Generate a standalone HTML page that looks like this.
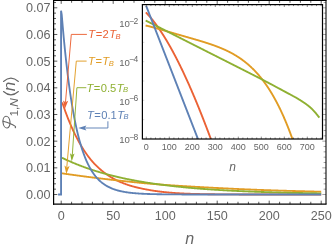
<!DOCTYPE html>
<html><head><meta charset="utf-8"><title>plot</title>
<style>html,body{margin:0;padding:0;background:#fff;}svg{display:block;will-change:transform;transform:translateZ(0);}</style>
</head><body>
<svg width="332" height="249" viewBox="0 0 332 249" font-family="Liberation Sans, sans-serif">
<rect width="332" height="249" fill="#fff"/>
<clipPath id="mc"><rect x="53.6" y="0.35" width="272.4" height="203.8"/></clipPath>
<g clip-path="url(#mc)" fill="none" stroke-width="1.85" stroke-linejoin="round">
<path d="M61.62,102.45 L62.76,104.01 L63.28,105.54 L63.80,107.05 L64.32,108.54 L64.84,110.00 L65.36,111.44 L65.88,112.86 L66.40,114.25 L66.92,115.63 L67.44,116.98 L67.96,118.31 L68.48,119.62 L69.00,120.91 L69.52,122.17 L70.04,123.42 L70.56,124.65 L71.08,125.86 L71.60,127.05 L72.12,128.22 L72.64,129.37 L73.16,130.50 L73.68,131.61 L74.20,132.71 L74.72,133.79 L75.24,134.85 L75.76,135.89 L76.28,136.91 L76.80,137.92 L77.32,138.92 L77.84,139.89 L78.36,140.85 L78.88,141.80 L79.40,142.73 L79.92,143.64 L80.44,144.55 L80.96,145.43 L81.48,146.31 L82.00,147.17 L82.52,148.02 L83.04,148.85 L83.56,149.67 L84.08,150.47 L84.60,151.27 L85.12,152.04 L85.64,152.81 L86.16,153.56 L86.68,154.29 L87.20,155.02 L87.72,155.72 L88.24,156.42 L88.76,157.10 L89.28,157.77 L89.80,158.43 L90.32,159.07 L90.84,159.71 L91.36,160.33 L91.88,160.93 L92.40,161.53 L92.92,162.12 L93.44,162.70 L93.96,163.26 L94.48,163.82 L95.00,164.36 L95.52,164.90 L96.04,165.42 L96.56,165.94 L97.08,166.45 L97.60,166.95 L98.12,167.44 L98.64,167.92 L99.16,168.39 L99.68,168.85 L100.20,169.31 L100.72,169.76 L101.24,170.20 L101.76,170.63 L102.28,171.06 L102.80,171.47 L103.32,171.88 L103.84,172.29 L104.36,172.68 L104.88,173.07 L105.40,173.45 L105.92,173.83 L106.44,174.20 L106.96,174.56 L107.48,174.92 L108.00,175.27 L108.52,175.61 L109.04,175.95 L109.56,176.28 L110.08,176.61 L110.60,176.93 L111.12,177.25 L111.64,177.55 L112.16,177.86 L112.68,178.16 L113.20,178.45 L113.72,178.74 L114.24,179.02 L114.76,179.30 L115.28,179.57 L115.80,179.84 L116.32,180.11 L116.84,180.36 L117.36,180.62 L117.88,180.87 L118.40,181.11 L118.92,181.36 L119.44,181.59 L119.96,181.82 L120.48,182.05 L121.00,182.28 L121.52,182.50 L122.04,182.72 L122.56,182.93 L123.08,183.14 L123.60,183.34 L124.12,183.55 L124.64,183.74 L125.16,183.94 L125.68,184.13 L126.20,184.32 L126.72,184.50 L127.24,184.68 L127.76,184.86 L128.28,185.03 L128.80,185.20 L129.32,185.36 L129.84,185.53 L130.36,185.69 L130.88,185.84 L131.40,185.99 L131.92,186.14 L132.44,186.29 L132.96,186.44 L133.48,186.58 L134.00,186.72 L134.52,186.86 L135.04,186.99 L135.56,187.12 L136.08,187.25 L136.60,187.38 L137.12,187.51 L137.64,187.63 L138.16,187.75 L138.68,187.87 L139.20,187.99 L139.72,188.11 L140.24,188.22 L140.76,188.34 L141.28,188.45 L141.80,188.56 L142.32,188.67 L142.84,188.78 L143.36,188.88 L143.88,188.99 L144.40,189.09 L144.92,189.19 L145.44,189.29 L145.96,189.39 L146.48,189.49 L147.00,189.59 L147.52,189.68 L148.04,189.78 L148.56,189.87 L149.08,189.96 L149.60,190.05 L150.12,190.14 L150.64,190.23 L151.16,190.32 L151.68,190.40 L152.20,190.49 L152.72,190.57 L153.24,190.65 L153.76,190.73 L154.28,190.81 L154.80,190.89 L155.32,190.97 L155.84,191.04 L156.36,191.11 L156.88,191.19 L157.40,191.26 L157.92,191.33 L158.44,191.40 L158.96,191.46 L159.48,191.53 L160.00,191.59 L160.52,191.66 L161.04,191.72 L161.56,191.78 L162.08,191.84 L162.60,191.90 L163.12,191.96 L163.64,192.02 L164.16,192.07 L164.68,192.13 L165.20,192.18 L165.72,192.23 L166.24,192.28 L166.76,192.33 L167.28,192.38 L167.80,192.43 L168.32,192.48 L168.84,192.53 L169.36,192.57 L169.88,192.62 L170.40,192.66 L170.92,192.70 L171.44,192.75 L171.96,192.79 L172.48,192.83 L173.00,192.87 L173.52,192.91 L174.04,192.94 L174.56,192.98 L175.08,193.02 L175.60,193.05 L176.12,193.09 L176.64,193.12 L177.16,193.15 L177.68,193.19 L178.20,193.22 L178.72,193.25 L179.24,193.28 L179.76,193.31 L180.28,193.34 L180.80,193.37 L181.32,193.39 L181.84,193.42 L182.36,193.45 L182.88,193.47 L183.40,193.50 L183.92,193.52 L184.44,193.55 L184.96,193.57 L185.48,193.59 L186.00,193.62 L186.52,193.64 L187.04,193.66 L187.56,193.68 L188.08,193.70 L188.60,193.72 L189.12,193.74 L189.64,193.76 L190.16,193.78 L190.68,193.80 L191.20,193.81 L191.72,193.83 L192.24,193.85 L192.76,193.86 L193.28,193.88 L193.80,193.90 L194.32,193.91 L194.84,193.93 L195.36,193.94 L195.88,193.95 L196.40,193.97 L196.92,193.98 L197.44,193.99 L197.96,194.01 L198.48,194.02 L199.00,194.03 L199.52,194.04 L200.04,194.06 L200.56,194.07 L201.08,194.08 L201.60,194.09 L202.12,194.10 L202.64,194.11 L203.16,194.12 L203.68,194.13 L204.20,194.14 L204.72,194.15 L205.24,194.16 L205.76,194.17 L206.28,194.18 L206.80,194.19 L207.32,194.20 L207.84,194.20 L208.36,194.21 L208.88,194.22 L209.40,194.23 L209.92,194.23 L210.44,194.24 L210.96,194.25 L211.48,194.26 L212.00,194.26 L212.52,194.27 L213.04,194.28 L213.56,194.28 L214.08,194.29 L214.60,194.29 L215.12,194.30 L215.64,194.30 L216.16,194.31 L216.68,194.32 L217.20,194.32 L217.72,194.33 L218.24,194.33 L218.76,194.34 L219.28,194.34 L219.80,194.34 L220.32,194.35 L220.84,194.35 L221.36,194.36 L221.88,194.36 L222.40,194.37 L222.92,194.37 L223.44,194.37 L223.96,194.38 L224.48,194.38 L225.00,194.38 L225.52,194.39 L226.04,194.39 L226.56,194.39 L227.08,194.40 L227.60,194.40 L228.12,194.40 L228.64,194.40 L229.16,194.41 L229.68,194.41 L230.20,194.41 L230.72,194.42 L231.24,194.42 L231.76,194.42 L232.28,194.42 L232.80,194.42 L233.32,194.43 L233.84,194.43 L234.36,194.43 L234.88,194.43 L235.40,194.44 L235.92,194.44 L236.44,194.44 L236.96,194.44 L237.48,194.44 L238.00,194.44 L238.52,194.45 L239.04,194.45 L239.56,194.45 L240.08,194.45 L240.60,194.45 L241.12,194.45 L241.64,194.45 L242.16,194.46 L242.68,194.46 L243.20,194.46 L243.72,194.46 L244.24,194.46 L244.76,194.46 L245.28,194.46 L245.80,194.46 L246.32,194.47 L246.84,194.47 L247.36,194.47 L247.88,194.47 L248.40,194.47 L248.92,194.47 L249.44,194.47 L249.96,194.47 L250.48,194.47 L251.00,194.47 L251.52,194.47 L252.04,194.48 L252.56,194.48 L253.08,194.48 L253.60,194.48 L254.12,194.48 L254.64,194.48 L255.16,194.48 L255.68,194.48 L256.20,194.48 L256.72,194.48 L257.24,194.48 L257.76,194.48 L258.28,194.48 L258.80,194.48 L259.32,194.48 L259.84,194.48 L260.36,194.49 L260.88,194.49 L261.40,194.49 L261.92,194.49 L262.44,194.49 L262.96,194.49 L263.48,194.49 L264.00,194.49 L264.52,194.49 L265.04,194.49 L265.56,194.49 L266.08,194.49 L266.60,194.49 L267.12,194.49 L267.64,194.49 L268.16,194.49 L268.68,194.49 L269.20,194.49 L269.72,194.49 L270.24,194.49 L270.76,194.49 L271.28,194.49 L271.80,194.49 L272.32,194.49 L272.84,194.49 L273.36,194.49 L273.88,194.49 L274.40,194.49 L274.92,194.49 L275.44,194.49 L275.96,194.49 L276.48,194.49 L277.00,194.49 L277.52,194.49 L278.04,194.50 L278.56,194.50 L279.08,194.50 L279.60,194.50 L280.12,194.50 L280.64,194.50 L281.16,194.50 L281.68,194.50 L282.20,194.50 L282.72,194.50 L283.24,194.50 L283.76,194.50 L284.28,194.50 L284.80,194.50 L285.32,194.50 L285.84,194.50 L286.36,194.50 L286.88,194.50 L287.40,194.50 L287.92,194.50 L288.44,194.50 L288.96,194.50 L289.48,194.50 L290.00,194.50 L290.52,194.50 L291.04,194.50 L291.56,194.50 L292.08,194.50 L292.60,194.50 L293.12,194.50 L293.64,194.50 L294.16,194.50 L294.68,194.50 L295.20,194.50 L295.72,194.50 L296.24,194.50 L296.76,194.50 L297.28,194.50 L297.80,194.50 L298.32,194.50 L298.84,194.50 L299.36,194.50 L299.88,194.50 L300.40,194.50 L300.92,194.50 L301.44,194.50 L301.96,194.50 L302.48,194.50 L303.00,194.50 L303.52,194.50 L304.04,194.50 L304.56,194.50 L305.08,194.50 L305.60,194.50 L306.12,194.50 L306.64,194.50 L307.16,194.50 L307.68,194.50 L308.20,194.50 L308.72,194.50 L309.24,194.50 L309.76,194.50 L310.28,194.50 L310.80,194.50 L311.32,194.50 L311.84,194.50 L312.36,194.50 L312.88,194.50 L313.40,194.50 L313.92,194.50 L314.44,194.50 L314.96,194.50 L315.48,194.50 L316.00,194.50 L316.52,194.50 L317.04,194.50 L317.56,194.50 L318.08,194.50 L318.60,194.50 L319.12,194.50 L319.64,194.50 L320.16,194.50 L320.68,194.50 L321.20,194.50" stroke="#EB6235"/>
<path d="M61.62,173.36 L62.76,173.44 L63.28,173.51 L63.80,173.59 L64.32,173.67 L64.84,173.74 L65.36,173.81 L65.88,173.89 L66.40,173.96 L66.92,174.04 L67.44,174.11 L67.96,174.19 L68.48,174.26 L69.00,174.33 L69.52,174.41 L70.04,174.48 L70.56,174.55 L71.08,174.63 L71.60,174.70 L72.12,174.77 L72.64,174.84 L73.16,174.92 L73.68,174.99 L74.20,175.06 L74.72,175.13 L75.24,175.20 L75.76,175.27 L76.28,175.34 L76.80,175.42 L77.32,175.49 L77.84,175.56 L78.36,175.63 L78.88,175.70 L79.40,175.77 L79.92,175.84 L80.44,175.91 L80.96,175.98 L81.48,176.05 L82.00,176.12 L82.52,176.18 L83.04,176.25 L83.56,176.32 L84.08,176.39 L84.60,176.46 L85.12,176.53 L85.64,176.60 L86.16,176.66 L86.68,176.73 L87.20,176.80 L87.72,176.87 L88.24,176.93 L88.76,177.00 L89.28,177.07 L89.80,177.13 L90.32,177.20 L90.84,177.27 L91.36,177.33 L91.88,177.40 L92.40,177.46 L92.92,177.53 L93.44,177.59 L93.96,177.66 L94.48,177.72 L95.00,177.79 L95.52,177.85 L96.04,177.92 L96.56,177.98 L97.08,178.05 L97.60,178.11 L98.12,178.17 L98.64,178.24 L99.16,178.30 L99.68,178.36 L100.20,178.43 L100.72,178.49 L101.24,178.55 L101.76,178.62 L102.28,178.68 L102.80,178.74 L103.32,178.80 L103.84,178.86 L104.36,178.93 L104.88,178.99 L105.40,179.05 L105.92,179.11 L106.44,179.17 L106.96,179.23 L107.48,179.29 L108.00,179.35 L108.52,179.41 L109.04,179.47 L109.56,179.53 L110.08,179.59 L110.60,179.65 L111.12,179.71 L111.64,179.77 L112.16,179.83 L112.68,179.89 L113.20,179.95 L113.72,180.01 L114.24,180.07 L114.76,180.13 L115.28,180.19 L115.80,180.24 L116.32,180.30 L116.84,180.36 L117.36,180.42 L117.88,180.47 L118.40,180.53 L118.92,180.59 L119.44,180.64 L119.96,180.70 L120.48,180.76 L121.00,180.81 L121.52,180.87 L122.04,180.93 L122.56,180.98 L123.08,181.04 L123.60,181.09 L124.12,181.15 L124.64,181.20 L125.16,181.26 L125.68,181.31 L126.20,181.37 L126.72,181.42 L127.24,181.48 L127.76,181.53 L128.28,181.59 L128.80,181.64 L129.32,181.70 L129.84,181.75 L130.36,181.81 L130.88,181.86 L131.40,181.91 L131.92,181.97 L132.44,182.02 L132.96,182.08 L133.48,182.13 L134.00,182.18 L134.52,182.24 L135.04,182.29 L135.56,182.34 L136.08,182.40 L136.60,182.45 L137.12,182.50 L137.64,182.55 L138.16,182.61 L138.68,182.66 L139.20,182.71 L139.72,182.76 L140.24,182.81 L140.76,182.86 L141.28,182.91 L141.80,182.96 L142.32,183.01 L142.84,183.06 L143.36,183.11 L143.88,183.16 L144.40,183.21 L144.92,183.26 L145.44,183.30 L145.96,183.35 L146.48,183.40 L147.00,183.45 L147.52,183.49 L148.04,183.54 L148.56,183.58 L149.08,183.63 L149.60,183.67 L150.12,183.72 L150.64,183.76 L151.16,183.81 L151.68,183.85 L152.20,183.89 L152.72,183.94 L153.24,183.98 L153.76,184.02 L154.28,184.06 L154.80,184.11 L155.32,184.15 L155.84,184.19 L156.36,184.23 L156.88,184.27 L157.40,184.31 L157.92,184.35 L158.44,184.39 L158.96,184.43 L159.48,184.47 L160.00,184.51 L160.52,184.55 L161.04,184.59 L161.56,184.63 L162.08,184.67 L162.60,184.71 L163.12,184.75 L163.64,184.78 L164.16,184.82 L164.68,184.86 L165.20,184.90 L165.72,184.93 L166.24,184.97 L166.76,185.01 L167.28,185.05 L167.80,185.08 L168.32,185.12 L168.84,185.15 L169.36,185.19 L169.88,185.23 L170.40,185.26 L170.92,185.30 L171.44,185.33 L171.96,185.37 L172.48,185.40 L173.00,185.44 L173.52,185.47 L174.04,185.51 L174.56,185.54 L175.08,185.58 L175.60,185.61 L176.12,185.64 L176.64,185.68 L177.16,185.71 L177.68,185.74 L178.20,185.78 L178.72,185.81 L179.24,185.84 L179.76,185.88 L180.28,185.91 L180.80,185.94 L181.32,185.97 L181.84,186.01 L182.36,186.04 L182.88,186.07 L183.40,186.10 L183.92,186.14 L184.44,186.17 L184.96,186.20 L185.48,186.23 L186.00,186.26 L186.52,186.29 L187.04,186.32 L187.56,186.36 L188.08,186.39 L188.60,186.42 L189.12,186.45 L189.64,186.48 L190.16,186.51 L190.68,186.54 L191.20,186.57 L191.72,186.60 L192.24,186.63 L192.76,186.66 L193.28,186.69 L193.80,186.72 L194.32,186.75 L194.84,186.78 L195.36,186.81 L195.88,186.84 L196.40,186.87 L196.92,186.90 L197.44,186.93 L197.96,186.96 L198.48,186.99 L199.00,187.01 L199.52,187.04 L200.04,187.07 L200.56,187.10 L201.08,187.13 L201.60,187.16 L202.12,187.19 L202.64,187.22 L203.16,187.24 L203.68,187.27 L204.20,187.30 L204.72,187.33 L205.24,187.36 L205.76,187.39 L206.28,187.41 L206.80,187.44 L207.32,187.47 L207.84,187.50 L208.36,187.53 L208.88,187.55 L209.40,187.58 L209.92,187.61 L210.44,187.64 L210.96,187.66 L211.48,187.69 L212.00,187.72 L212.52,187.75 L213.04,187.77 L213.56,187.80 L214.08,187.83 L214.60,187.86 L215.12,187.88 L215.64,187.91 L216.16,187.94 L216.68,187.96 L217.20,187.99 L217.72,188.02 L218.24,188.04 L218.76,188.07 L219.28,188.10 L219.80,188.12 L220.32,188.15 L220.84,188.18 L221.36,188.20 L221.88,188.23 L222.40,188.26 L222.92,188.28 L223.44,188.31 L223.96,188.33 L224.48,188.36 L225.00,188.38 L225.52,188.41 L226.04,188.44 L226.56,188.46 L227.08,188.49 L227.60,188.51 L228.12,188.54 L228.64,188.56 L229.16,188.59 L229.68,188.61 L230.20,188.64 L230.72,188.66 L231.24,188.69 L231.76,188.71 L232.28,188.74 L232.80,188.76 L233.32,188.79 L233.84,188.81 L234.36,188.83 L234.88,188.86 L235.40,188.88 L235.92,188.91 L236.44,188.93 L236.96,188.95 L237.48,188.98 L238.00,189.00 L238.52,189.03 L239.04,189.05 L239.56,189.07 L240.08,189.10 L240.60,189.12 L241.12,189.14 L241.64,189.16 L242.16,189.19 L242.68,189.21 L243.20,189.23 L243.72,189.26 L244.24,189.28 L244.76,189.30 L245.28,189.32 L245.80,189.34 L246.32,189.37 L246.84,189.39 L247.36,189.41 L247.88,189.43 L248.40,189.45 L248.92,189.48 L249.44,189.50 L249.96,189.52 L250.48,189.54 L251.00,189.56 L251.52,189.58 L252.04,189.60 L252.56,189.62 L253.08,189.64 L253.60,189.66 L254.12,189.69 L254.64,189.71 L255.16,189.73 L255.68,189.75 L256.20,189.77 L256.72,189.79 L257.24,189.81 L257.76,189.83 L258.28,189.85 L258.80,189.87 L259.32,189.88 L259.84,189.90 L260.36,189.92 L260.88,189.94 L261.40,189.96 L261.92,189.98 L262.44,190.00 L262.96,190.02 L263.48,190.04 L264.00,190.06 L264.52,190.07 L265.04,190.09 L265.56,190.11 L266.08,190.13 L266.60,190.15 L267.12,190.17 L267.64,190.18 L268.16,190.20 L268.68,190.22 L269.20,190.24 L269.72,190.26 L270.24,190.27 L270.76,190.29 L271.28,190.31 L271.80,190.33 L272.32,190.34 L272.84,190.36 L273.36,190.38 L273.88,190.39 L274.40,190.41 L274.92,190.43 L275.44,190.45 L275.96,190.46 L276.48,190.48 L277.00,190.50 L277.52,190.51 L278.04,190.53 L278.56,190.55 L279.08,190.56 L279.60,190.58 L280.12,190.59 L280.64,190.61 L281.16,190.63 L281.68,190.64 L282.20,190.66 L282.72,190.67 L283.24,190.69 L283.76,190.71 L284.28,190.72 L284.80,190.74 L285.32,190.75 L285.84,190.77 L286.36,190.78 L286.88,190.80 L287.40,190.82 L287.92,190.83 L288.44,190.85 L288.96,190.86 L289.48,190.88 L290.00,190.89 L290.52,190.91 L291.04,190.92 L291.56,190.94 L292.08,190.95 L292.60,190.97 L293.12,190.98 L293.64,191.00 L294.16,191.01 L294.68,191.03 L295.20,191.04 L295.72,191.05 L296.24,191.07 L296.76,191.08 L297.28,191.10 L297.80,191.11 L298.32,191.13 L298.84,191.14 L299.36,191.15 L299.88,191.17 L300.40,191.18 L300.92,191.20 L301.44,191.21 L301.96,191.22 L302.48,191.24 L303.00,191.25 L303.52,191.27 L304.04,191.28 L304.56,191.29 L305.08,191.31 L305.60,191.32 L306.12,191.33 L306.64,191.35 L307.16,191.36 L307.68,191.38 L308.20,191.39 L308.72,191.40 L309.24,191.42 L309.76,191.43 L310.28,191.44 L310.80,191.46 L311.32,191.47 L311.84,191.48 L312.36,191.49 L312.88,191.51 L313.40,191.52 L313.92,191.53 L314.44,191.55 L314.96,191.56 L315.48,191.57 L316.00,191.59 L316.52,191.60 L317.04,191.61 L317.56,191.62 L318.08,191.64 L318.60,191.65 L319.12,191.66 L319.64,191.67 L320.16,191.69 L320.68,191.70 L321.20,191.71" stroke="#E19C24"/>
<path d="M61.62,157.85 L62.76,158.11 L63.28,158.36 L63.80,158.60 L64.32,158.85 L64.84,159.10 L65.36,159.34 L65.88,159.58 L66.40,159.82 L66.92,160.06 L67.44,160.30 L67.96,160.53 L68.48,160.77 L69.00,161.00 L69.52,161.23 L70.04,161.46 L70.56,161.68 L71.08,161.91 L71.60,162.13 L72.12,162.36 L72.64,162.58 L73.16,162.80 L73.68,163.01 L74.20,163.23 L74.72,163.45 L75.24,163.66 L75.76,163.87 L76.28,164.08 L76.80,164.29 L77.32,164.50 L77.84,164.71 L78.36,164.91 L78.88,165.11 L79.40,165.32 L79.92,165.52 L80.44,165.72 L80.96,165.92 L81.48,166.11 L82.00,166.31 L82.52,166.50 L83.04,166.69 L83.56,166.89 L84.08,167.08 L84.60,167.26 L85.12,167.45 L85.64,167.64 L86.16,167.82 L86.68,168.01 L87.20,168.19 L87.72,168.37 L88.24,168.55 L88.76,168.73 L89.28,168.91 L89.80,169.08 L90.32,169.26 L90.84,169.43 L91.36,169.60 L91.88,169.77 L92.40,169.94 L92.92,170.11 L93.44,170.28 L93.96,170.45 L94.48,170.61 L95.00,170.78 L95.52,170.94 L96.04,171.10 L96.56,171.27 L97.08,171.43 L97.60,171.58 L98.12,171.74 L98.64,171.90 L99.16,172.05 L99.68,172.21 L100.20,172.36 L100.72,172.52 L101.24,172.67 L101.76,172.82 L102.28,172.97 L102.80,173.12 L103.32,173.26 L103.84,173.41 L104.36,173.55 L104.88,173.70 L105.40,173.84 L105.92,173.98 L106.44,174.13 L106.96,174.27 L107.48,174.41 L108.00,174.54 L108.52,174.68 L109.04,174.82 L109.56,174.95 L110.08,175.09 L110.60,175.22 L111.12,175.36 L111.64,175.49 L112.16,175.62 L112.68,175.75 L113.20,175.88 L113.72,176.01 L114.24,176.13 L114.76,176.26 L115.28,176.39 L115.80,176.51 L116.32,176.64 L116.84,176.76 L117.36,176.88 L117.88,177.00 L118.40,177.12 L118.92,177.24 L119.44,177.36 L119.96,177.48 L120.48,177.60 L121.00,177.71 L121.52,177.83 L122.04,177.94 L122.56,178.06 L123.08,178.17 L123.60,178.28 L124.12,178.40 L124.64,178.51 L125.16,178.62 L125.68,178.73 L126.20,178.83 L126.72,178.94 L127.24,179.05 L127.76,179.16 L128.28,179.26 L128.80,179.37 L129.32,179.47 L129.84,179.57 L130.36,179.68 L130.88,179.78 L131.40,179.88 L131.92,179.98 L132.44,180.08 L132.96,180.18 L133.48,180.28 L134.00,180.38 L134.52,180.48 L135.04,180.57 L135.56,180.67 L136.08,180.76 L136.60,180.86 L137.12,180.95 L137.64,181.05 L138.16,181.14 L138.68,181.23 L139.20,181.32 L139.72,181.41 L140.24,181.50 L140.76,181.59 L141.28,181.68 L141.80,181.77 L142.32,181.86 L142.84,181.95 L143.36,182.03 L143.88,182.12 L144.40,182.20 L144.92,182.29 L145.44,182.37 L145.96,182.46 L146.48,182.54 L147.00,182.62 L147.52,182.71 L148.04,182.79 L148.56,182.87 L149.08,182.95 L149.60,183.03 L150.12,183.11 L150.64,183.19 L151.16,183.26 L151.68,183.34 L152.20,183.42 L152.72,183.50 L153.24,183.57 L153.76,183.65 L154.28,183.72 L154.80,183.80 L155.32,183.87 L155.84,183.95 L156.36,184.02 L156.88,184.09 L157.40,184.16 L157.92,184.23 L158.44,184.31 L158.96,184.38 L159.48,184.45 L160.00,184.52 L160.52,184.59 L161.04,184.65 L161.56,184.72 L162.08,184.79 L162.60,184.86 L163.12,184.93 L163.64,184.99 L164.16,185.06 L164.68,185.12 L165.20,185.19 L165.72,185.25 L166.24,185.32 L166.76,185.38 L167.28,185.44 L167.80,185.51 L168.32,185.57 L168.84,185.63 L169.36,185.69 L169.88,185.76 L170.40,185.82 L170.92,185.88 L171.44,185.94 L171.96,186.00 L172.48,186.06 L173.00,186.12 L173.52,186.17 L174.04,186.23 L174.56,186.29 L175.08,186.35 L175.60,186.40 L176.12,186.46 L176.64,186.52 L177.16,186.57 L177.68,186.63 L178.20,186.68 L178.72,186.74 L179.24,186.79 L179.76,186.85 L180.28,186.90 L180.80,186.95 L181.32,187.01 L181.84,187.06 L182.36,187.11 L182.88,187.16 L183.40,187.21 L183.92,187.26 L184.44,187.32 L184.96,187.37 L185.48,187.42 L186.00,187.46 L186.52,187.51 L187.04,187.56 L187.56,187.61 L188.08,187.66 L188.60,187.71 L189.12,187.76 L189.64,187.80 L190.16,187.85 L190.68,187.90 L191.20,187.94 L191.72,187.99 L192.24,188.03 L192.76,188.08 L193.28,188.12 L193.80,188.17 L194.32,188.21 L194.84,188.26 L195.36,188.30 L195.88,188.35 L196.40,188.39 L196.92,188.43 L197.44,188.47 L197.96,188.52 L198.48,188.56 L199.00,188.60 L199.52,188.64 L200.04,188.68 L200.56,188.72 L201.08,188.76 L201.60,188.80 L202.12,188.84 L202.64,188.88 L203.16,188.92 L203.68,188.96 L204.20,189.00 L204.72,189.04 L205.24,189.08 L205.76,189.12 L206.28,189.15 L206.80,189.19 L207.32,189.23 L207.84,189.27 L208.36,189.30 L208.88,189.34 L209.40,189.37 L209.92,189.41 L210.44,189.45 L210.96,189.48 L211.48,189.52 L212.00,189.55 L212.52,189.59 L213.04,189.62 L213.56,189.65 L214.08,189.69 L214.60,189.72 L215.12,189.76 L215.64,189.79 L216.16,189.82 L216.68,189.85 L217.20,189.89 L217.72,189.92 L218.24,189.95 L218.76,189.98 L219.28,190.01 L219.80,190.05 L220.32,190.08 L220.84,190.11 L221.36,190.14 L221.88,190.17 L222.40,190.20 L222.92,190.23 L223.44,190.26 L223.96,190.29 L224.48,190.32 L225.00,190.35 L225.52,190.38 L226.04,190.40 L226.56,190.43 L227.08,190.46 L227.60,190.49 L228.12,190.52 L228.64,190.55 L229.16,190.57 L229.68,190.60 L230.20,190.63 L230.72,190.66 L231.24,190.68 L231.76,190.71 L232.28,190.73 L232.80,190.76 L233.32,190.79 L233.84,190.81 L234.36,190.84 L234.88,190.86 L235.40,190.89 L235.92,190.92 L236.44,190.94 L236.96,190.96 L237.48,190.99 L238.00,191.01 L238.52,191.04 L239.04,191.06 L239.56,191.09 L240.08,191.11 L240.60,191.13 L241.12,191.16 L241.64,191.18 L242.16,191.20 L242.68,191.23 L243.20,191.25 L243.72,191.27 L244.24,191.29 L244.76,191.32 L245.28,191.34 L245.80,191.36 L246.32,191.38 L246.84,191.41 L247.36,191.43 L247.88,191.45 L248.40,191.47 L248.92,191.49 L249.44,191.51 L249.96,191.53 L250.48,191.55 L251.00,191.57 L251.52,191.59 L252.04,191.61 L252.56,191.63 L253.08,191.65 L253.60,191.67 L254.12,191.69 L254.64,191.71 L255.16,191.73 L255.68,191.75 L256.20,191.77 L256.72,191.79 L257.24,191.81 L257.76,191.83 L258.28,191.85 L258.80,191.87 L259.32,191.88 L259.84,191.90 L260.36,191.92 L260.88,191.94 L261.40,191.96 L261.92,191.97 L262.44,191.99 L262.96,192.01 L263.48,192.03 L264.00,192.04 L264.52,192.06 L265.04,192.08 L265.56,192.09 L266.08,192.11 L266.60,192.13 L267.12,192.14 L267.64,192.16 L268.16,192.18 L268.68,192.19 L269.20,192.21 L269.72,192.22 L270.24,192.24 L270.76,192.26 L271.28,192.27 L271.80,192.29 L272.32,192.30 L272.84,192.32 L273.36,192.33 L273.88,192.35 L274.40,192.36 L274.92,192.38 L275.44,192.39 L275.96,192.41 L276.48,192.42 L277.00,192.44 L277.52,192.45 L278.04,192.47 L278.56,192.48 L279.08,192.49 L279.60,192.51 L280.12,192.52 L280.64,192.54 L281.16,192.55 L281.68,192.56 L282.20,192.58 L282.72,192.59 L283.24,192.60 L283.76,192.62 L284.28,192.63 L284.80,192.64 L285.32,192.66 L285.84,192.67 L286.36,192.68 L286.88,192.69 L287.40,192.71 L287.92,192.72 L288.44,192.73 L288.96,192.74 L289.48,192.76 L290.00,192.77 L290.52,192.78 L291.04,192.79 L291.56,192.80 L292.08,192.82 L292.60,192.83 L293.12,192.84 L293.64,192.85 L294.16,192.86 L294.68,192.87 L295.20,192.88 L295.72,192.90 L296.24,192.91 L296.76,192.92 L297.28,192.93 L297.80,192.94 L298.32,192.95 L298.84,192.96 L299.36,192.97 L299.88,192.98 L300.40,192.99 L300.92,193.00 L301.44,193.01 L301.96,193.02 L302.48,193.04 L303.00,193.05 L303.52,193.06 L304.04,193.07 L304.56,193.08 L305.08,193.09 L305.60,193.10 L306.12,193.11 L306.64,193.11 L307.16,193.12 L307.68,193.13 L308.20,193.14 L308.72,193.15 L309.24,193.16 L309.76,193.17 L310.28,193.18 L310.80,193.19 L311.32,193.20 L311.84,193.21 L312.36,193.22 L312.88,193.23 L313.40,193.23 L313.92,193.24 L314.44,193.25 L314.96,193.26 L315.48,193.27 L316.00,193.28 L316.52,193.29 L317.04,193.30 L317.56,193.30 L318.08,193.31 L318.60,193.32 L319.12,193.33 L319.64,193.34 L320.16,193.34 L320.68,193.35 L321.20,193.36" stroke="#8FB032"/>
<path d="M58.08,194.50 L61.05,194.50 L61.05,10.74 L61.72,14.59 L62.24,20.81 L62.76,26.82 L63.28,32.62 L63.80,38.22 L64.32,43.63 L64.84,48.85 L65.36,53.89 L65.88,58.75 L66.40,63.45 L66.92,67.98 L67.44,72.36 L67.96,76.59 L68.48,80.67 L69.00,84.60 L69.52,88.41 L70.04,92.08 L70.56,95.62 L71.08,99.04 L71.60,102.35 L72.12,105.53 L72.64,108.61 L73.16,111.58 L73.68,114.45 L74.20,117.22 L74.72,119.90 L75.24,122.48 L75.76,124.97 L76.28,127.37 L76.80,129.70 L77.32,131.94 L77.84,134.10 L78.36,136.19 L78.88,138.21 L79.40,140.16 L79.92,142.04 L80.44,143.85 L80.96,145.61 L81.48,147.30 L82.00,148.93 L82.52,150.51 L83.04,152.03 L83.56,153.50 L84.08,154.92 L84.60,156.29 L85.12,157.61 L85.64,158.89 L86.16,160.12 L86.68,161.31 L87.20,162.46 L87.72,163.56 L88.24,164.63 L88.76,165.67 L89.28,166.67 L89.80,167.63 L90.32,168.56 L90.84,169.46 L91.36,170.32 L91.88,171.16 L92.40,171.97 L92.92,172.75 L93.44,173.50 L93.96,174.23 L94.48,174.93 L95.00,175.60 L95.52,176.26 L96.04,176.89 L96.56,177.50 L97.08,178.09 L97.60,178.65 L98.12,179.20 L98.64,179.73 L99.16,180.24 L99.68,180.74 L100.20,181.21 L100.72,181.67 L101.24,182.12 L101.76,182.54 L102.28,182.96 L102.80,183.36 L103.32,183.74 L103.84,184.11 L104.36,184.47 L104.88,184.82 L105.40,185.16 L105.92,185.48 L106.44,185.79 L106.96,186.09 L107.48,186.38 L108.00,186.66 L108.52,186.94 L109.04,187.20 L109.56,187.45 L110.08,187.69 L110.60,187.93 L111.12,188.16 L111.64,188.38 L112.16,188.59 L112.68,188.79 L113.20,188.99 L113.72,189.18 L114.24,189.36 L114.76,189.54 L115.28,189.71 L115.80,189.88 L116.32,190.04 L116.84,190.19 L117.36,190.34 L117.88,190.49 L118.40,190.63 L118.92,190.76 L119.44,190.89 L119.96,191.01 L120.48,191.13 L121.00,191.25 L121.52,191.36 L122.04,191.47 L122.56,191.58 L123.08,191.68 L123.60,191.78 L124.12,191.87 L124.64,191.96 L125.16,192.05 L125.68,192.13 L126.20,192.22 L126.72,192.29 L127.24,192.37 L127.76,192.44 L128.28,192.52 L128.80,192.58 L129.32,192.65 L129.84,192.71 L130.36,192.78 L130.88,192.84 L131.40,192.89 L131.92,192.95 L132.44,193.00 L132.96,193.05 L133.48,193.10 L134.00,193.15 L134.52,193.20 L135.04,193.24 L135.56,193.29 L136.08,193.33 L136.60,193.37 L137.12,193.41 L137.64,193.45 L138.16,193.48 L138.68,193.52 L139.20,193.55 L139.72,193.59 L140.24,193.62 L140.76,193.65 L141.28,193.68 L141.80,193.71 L142.32,193.73 L142.84,193.76 L143.36,193.79 L143.88,193.81 L144.40,193.83 L144.92,193.86 L145.44,193.88 L145.96,193.90 L146.48,193.92 L147.00,193.94 L147.52,193.96 L148.04,193.98 L148.56,194.00 L149.08,194.01 L149.60,194.03 L150.12,194.05 L150.64,194.06 L151.16,194.08 L151.68,194.09 L152.20,194.11 L152.72,194.12 L153.24,194.13 L153.76,194.15 L154.28,194.16 L154.80,194.17 L155.32,194.18 L155.84,194.19 L156.36,194.20 L156.88,194.21 L157.40,194.22 L157.92,194.23 L158.44,194.24 L158.96,194.25 L159.48,194.26 L160.00,194.27 L160.52,194.28 L161.04,194.28 L161.56,194.29 L162.08,194.30 L162.60,194.31 L163.12,194.31 L163.64,194.32 L164.16,194.33 L164.68,194.33 L165.20,194.34 L165.72,194.34 L166.24,194.35 L166.76,194.35 L167.28,194.36 L167.80,194.36 L168.32,194.37 L168.84,194.37 L169.36,194.38 L169.88,194.38 L170.40,194.39 L170.92,194.39 L171.44,194.39 L171.96,194.40 L172.48,194.40 L173.00,194.40 L173.52,194.41 L174.04,194.41 L174.56,194.41 L175.08,194.42 L175.60,194.42 L176.12,194.42 L176.64,194.42 L177.16,194.43 L177.68,194.43 L178.20,194.43 L178.72,194.43 L179.24,194.44 L179.76,194.44 L180.28,194.44 L180.80,194.44 L181.32,194.45 L181.84,194.45 L182.36,194.45 L182.88,194.45 L183.40,194.45 L183.92,194.45 L184.44,194.46 L184.96,194.46 L185.48,194.46 L186.00,194.46 L186.52,194.46 L187.04,194.46 L187.56,194.46 L188.08,194.47 L188.60,194.47 L189.12,194.47 L189.64,194.47 L190.16,194.47 L190.68,194.47 L191.20,194.47 L191.72,194.47 L192.24,194.47 L192.76,194.47 L193.28,194.48 L193.80,194.48 L194.32,194.48 L194.84,194.48 L195.36,194.48 L195.88,194.48 L196.40,194.48 L196.92,194.48 L197.44,194.48 L197.96,194.48 L198.48,194.48 L199.00,194.48 L199.52,194.48 L200.04,194.48 L200.56,194.49 L201.08,194.49 L201.60,194.49 L202.12,194.49 L202.64,194.49 L203.16,194.49 L203.68,194.49 L204.20,194.49 L204.72,194.49 L205.24,194.49 L205.76,194.49 L206.28,194.49 L206.80,194.49 L207.32,194.49 L207.84,194.49 L208.36,194.49 L208.88,194.49 L209.40,194.49 L209.92,194.49 L210.44,194.49 L210.96,194.49 L211.48,194.49 L212.00,194.49 L212.52,194.49 L213.04,194.49 L213.56,194.49 L214.08,194.49 L214.60,194.49 L215.12,194.49 L215.64,194.49 L216.16,194.49 L216.68,194.50 L217.20,194.50 L217.72,194.50 L218.24,194.50 L218.76,194.50 L219.28,194.50 L219.80,194.50 L220.32,194.50 L220.84,194.50 L221.36,194.50 L221.88,194.50 L222.40,194.50 L222.92,194.50 L223.44,194.50 L223.96,194.50 L224.48,194.50 L225.00,194.50 L225.52,194.50 L226.04,194.50 L226.56,194.50 L227.08,194.50 L227.60,194.50 L228.12,194.50 L228.64,194.50 L229.16,194.50 L229.68,194.50 L230.20,194.50 L230.72,194.50 L231.24,194.50 L231.76,194.50 L232.28,194.50 L232.80,194.50 L233.32,194.50 L233.84,194.50 L234.36,194.50 L234.88,194.50 L235.40,194.50 L235.92,194.50 L236.44,194.50 L236.96,194.50 L237.48,194.50 L238.00,194.50 L238.52,194.50 L239.04,194.50 L239.56,194.50 L240.08,194.50 L240.60,194.50 L241.12,194.50 L241.64,194.50 L242.16,194.50 L242.68,194.50 L243.20,194.50 L243.72,194.50 L244.24,194.50 L244.76,194.50 L245.28,194.50 L245.80,194.50 L246.32,194.50 L246.84,194.50 L247.36,194.50 L247.88,194.50 L248.40,194.50 L248.92,194.50 L249.44,194.50 L249.96,194.50 L250.48,194.50 L251.00,194.50 L251.52,194.50 L252.04,194.50 L252.56,194.50 L253.08,194.50 L253.60,194.50 L254.12,194.50 L254.64,194.50 L255.16,194.50 L255.68,194.50 L256.20,194.50 L256.72,194.50 L257.24,194.50 L257.76,194.50 L258.28,194.50 L258.80,194.50 L259.32,194.50 L259.84,194.50 L260.36,194.50 L260.88,194.50 L261.40,194.50 L261.92,194.50 L262.44,194.50 L262.96,194.50 L263.48,194.50 L264.00,194.50 L264.52,194.50 L265.04,194.50 L265.56,194.50 L266.08,194.50 L266.60,194.50 L267.12,194.50 L267.64,194.50 L268.16,194.50 L268.68,194.50 L269.20,194.50 L269.72,194.50 L270.24,194.50 L270.76,194.50 L271.28,194.50 L271.80,194.50 L272.32,194.50 L272.84,194.50 L273.36,194.50 L273.88,194.50 L274.40,194.50 L274.92,194.50 L275.44,194.50 L275.96,194.50 L276.48,194.50 L277.00,194.50 L277.52,194.50 L278.04,194.50 L278.56,194.50 L279.08,194.50 L279.60,194.50 L280.12,194.50 L280.64,194.50 L281.16,194.50 L281.68,194.50 L282.20,194.50 L282.72,194.50 L283.24,194.50 L283.76,194.50 L284.28,194.50 L284.80,194.50 L285.32,194.50 L285.84,194.50 L286.36,194.50 L286.88,194.50 L287.40,194.50 L287.92,194.50 L288.44,194.50 L288.96,194.50 L289.48,194.50 L290.00,194.50 L290.52,194.50 L291.04,194.50 L291.56,194.50 L292.08,194.50 L292.60,194.50 L293.12,194.50 L293.64,194.50 L294.16,194.50 L294.68,194.50 L295.20,194.50 L295.72,194.50 L296.24,194.50 L296.76,194.50 L297.28,194.50 L297.80,194.50 L298.32,194.50 L298.84,194.50 L299.36,194.50 L299.88,194.50 L300.40,194.50 L300.92,194.50 L301.44,194.50 L301.96,194.50 L302.48,194.50 L303.00,194.50 L303.52,194.50 L304.04,194.50 L304.56,194.50 L305.08,194.50 L305.60,194.50 L306.12,194.50 L306.64,194.50 L307.16,194.50 L307.68,194.50 L308.20,194.50 L308.72,194.50 L309.24,194.50 L309.76,194.50 L310.28,194.50 L310.80,194.50 L311.32,194.50 L311.84,194.50 L312.36,194.50 L312.88,194.50 L313.40,194.50 L313.92,194.50 L314.44,194.50 L314.96,194.50 L315.48,194.50 L316.00,194.50 L316.52,194.50 L317.04,194.50 L317.56,194.50 L318.08,194.50 L318.60,194.50 L319.12,194.50 L319.64,194.50 L320.16,194.50 L320.68,194.50 L321.20,194.50" stroke="#5E81B5" stroke-linejoin="miter"/>
</g>
<path d="M61.20,204.15 v-3.5 M61.20,0.35 v3.5 M71.60,204.15 v-2.4 M71.60,0.35 v2.4 M82.00,204.15 v-2.4 M82.00,0.35 v2.4 M92.40,204.15 v-2.4 M92.40,0.35 v2.4 M102.80,204.15 v-2.4 M102.80,0.35 v2.4 M113.20,204.15 v-3.5 M113.20,0.35 v3.5 M123.60,204.15 v-2.4 M123.60,0.35 v2.4 M134.00,204.15 v-2.4 M134.00,0.35 v2.4 M144.40,204.15 v-2.4 M144.40,0.35 v2.4 M154.80,204.15 v-2.4 M154.80,0.35 v2.4 M165.20,204.15 v-3.5 M165.20,0.35 v3.5 M175.60,204.15 v-2.4 M175.60,0.35 v2.4 M186.00,204.15 v-2.4 M186.00,0.35 v2.4 M196.40,204.15 v-2.4 M196.40,0.35 v2.4 M206.80,204.15 v-2.4 M206.80,0.35 v2.4 M217.20,204.15 v-3.5 M217.20,0.35 v3.5 M227.60,204.15 v-2.4 M227.60,0.35 v2.4 M238.00,204.15 v-2.4 M238.00,0.35 v2.4 M248.40,204.15 v-2.4 M248.40,0.35 v2.4 M258.80,204.15 v-2.4 M258.80,0.35 v2.4 M269.20,204.15 v-3.5 M269.20,0.35 v3.5 M279.60,204.15 v-2.4 M279.60,0.35 v2.4 M290.00,204.15 v-2.4 M290.00,0.35 v2.4 M300.40,204.15 v-2.4 M300.40,0.35 v2.4 M310.80,204.15 v-2.4 M310.80,0.35 v2.4 M321.20,204.15 v-3.5 M321.20,0.35 v3.5 M53.6,194.50 h3.7 M53.6,189.17 h2.4 M53.6,183.83 h2.4 M53.6,178.50 h2.4 M53.6,173.16 h2.4 M53.6,167.83 h3.7 M53.6,162.50 h2.4 M53.6,157.16 h2.4 M53.6,151.83 h2.4 M53.6,146.49 h2.4 M53.6,141.16 h3.7 M53.6,135.83 h2.4 M53.6,130.49 h2.4 M53.6,125.16 h2.4 M53.6,119.82 h2.4 M53.6,114.49 h3.7 M53.6,109.16 h2.4 M53.6,103.82 h2.4 M53.6,98.49 h2.4 M53.6,93.15 h2.4 M53.6,87.82 h3.7 M53.6,82.49 h2.4 M53.6,77.15 h2.4 M53.6,71.82 h2.4 M53.6,66.48 h2.4 M53.6,61.15 h3.7 M53.6,55.82 h2.4 M53.6,50.48 h2.4 M53.6,45.15 h2.4 M53.6,39.81 h2.4 M53.6,34.48 h3.7 M53.6,29.15 h2.4 M53.6,23.81 h2.4 M53.6,18.48 h2.4 M53.6,13.14 h2.4 M53.6,7.81 h3.7 M53.6,2.48 h2.4" stroke="#5a5a5a" stroke-width="1.0" fill="none"/>
<path d="M326.0,194.50 h-3.7 M326.0,189.17 h-2.4 M326.0,183.83 h-2.4 M326.0,178.50 h-2.4 M326.0,173.16 h-2.4 M326.0,167.83 h-3.7 M326.0,162.50 h-2.4 M326.0,157.16 h-2.4 M326.0,151.83 h-2.4 M326.0,146.49 h-2.4 M326.0,141.16 h-3.7 M326.0,135.83 h-2.4 M326.0,130.49 h-2.4 M326.0,125.16 h-2.4 M326.0,119.82 h-2.4 M326.0,114.49 h-3.7 M326.0,109.16 h-2.4 M326.0,103.82 h-2.4 M326.0,98.49 h-2.4 M326.0,93.15 h-2.4 M326.0,87.82 h-3.7 M326.0,82.49 h-2.4 M326.0,77.15 h-2.4 M326.0,71.82 h-2.4 M326.0,66.48 h-2.4 M326.0,61.15 h-3.7 M326.0,55.82 h-2.4 M326.0,50.48 h-2.4 M326.0,45.15 h-2.4 M326.0,39.81 h-2.4 M326.0,34.48 h-3.7 M326.0,29.15 h-2.4 M326.0,23.81 h-2.4 M326.0,18.48 h-2.4 M326.0,13.14 h-2.4 M326.0,7.81 h-3.7 M326.0,2.48 h-2.4" stroke="#5a5a5a" stroke-width="0.8" fill="none" opacity="0.7"/>
<path d="M53.6,-0.25 V204.75" stroke="#000" stroke-width="1.2" fill="none"/>
<path d="M53.0,204.15 H326.55" stroke="#000" stroke-width="1.2" fill="none"/>
<path d="M53.6,0.35 H326.55" stroke="#000" stroke-width="1.2" fill="none"/>
<path d="M326.0,0.35 V204.15" stroke="#000" stroke-width="1.05" fill="none"/>
<g fill="#666666" font-size="12.6px">
<text x="61.20" y="219.6" text-anchor="middle">0</text>
<text x="113.20" y="219.6" text-anchor="middle">50</text>
<text x="165.20" y="219.6" text-anchor="middle">100</text>
<text x="217.20" y="219.6" text-anchor="middle">150</text>
<text x="269.20" y="219.6" text-anchor="middle">200</text>
<text x="321.20" y="219.6" text-anchor="middle">250</text>
<text x="50.5" y="198.90" text-anchor="end">0.00</text>
<text x="50.5" y="172.23" text-anchor="end">0.01</text>
<text x="50.5" y="145.56" text-anchor="end">0.02</text>
<text x="50.5" y="118.89" text-anchor="end">0.03</text>
<text x="50.5" y="92.22" text-anchor="end">0.04</text>
<text x="50.5" y="65.55" text-anchor="end">0.05</text>
<text x="50.5" y="38.88" text-anchor="end">0.06</text>
<text x="50.5" y="12.21" text-anchor="end">0.07</text>
</g>
<text x="189.6" y="243.9" text-anchor="middle" font-size="16px" font-style="italic" fill="#666666">n</text>
<g transform="translate(15.4,129.5) rotate(-90)" fill="#666666">
<g fill="none" stroke="#666666" stroke-width="1.15" stroke-linecap="round">
<path d="M8.3,-12.4 C7.2,-8.2 5.6,-3.6 3.4,-0.4 C3.0,0.2 2.3,0.4 1.8,-0.2"/>
<ellipse cx="7.4" cy="-8.9" rx="5.9" ry="3.5" transform="rotate(-6 7.4 -8.9)"/>
</g>
<text x="12.9" y="2.5" font-size="11.8px">1,<tspan font-style="italic">N</tspan></text>
<g fill="none" stroke="#666666" stroke-width="1.1" stroke-linecap="round">
<path d="M38.0,-11.9 Q31.3,-4.5 38.0,3.0"/>
<path d="M48.0,-11.9 Q54.7,-4.5 48.0,3.0"/>
</g>
<text x="38.2" y="0" font-size="17px" font-style="italic">n</text>
</g>
<g fill="none" stroke-width="0.95">
<path d="M86.9,34.4 L71.3,34.4 L65.5,102" stroke="#EB6235"/>
<path d="M86.6,61.1 L76.3,61.1 L66.8,167" stroke="#E19C24"/>
<path d="M86.3,87.7 L76.9,87.7 L72.3,155" stroke="#8FB032"/>
<path d="M107.9,121.3 L107.9,128 L84,128" stroke="#5E81B5"/>
</g>
<path d="M64.90,108.80 L63.01,100.41 L65.46,102.26 L68.19,100.85 Z" fill="#EB6235"/>
<path d="M66.30,174.00 L64.43,165.60 L66.88,167.47 L69.61,166.06 Z" fill="#E19C24"/>
<path d="M71.70,161.50 L69.98,153.16 L72.16,154.96 L74.57,153.48 Z" fill="#8FB032"/>
<path d="M78.20,128.00 L86.40,125.60 L84.76,128.00 L86.40,130.40 Z" fill="#5E81B5"/>
<text x="88.3" y="38.4" fill="#EB6235" font-size="11.2px"><tspan font-style="italic">T</tspan><tspan dx="0.5">=</tspan><tspan dx="0.3">2</tspan><tspan font-style="italic" dx="0.5">T</tspan><tspan font-style="italic" font-size="7.6px" dx="-0.5" dy="0.6">B</tspan></text>
<text x="88.1" y="65.1" fill="#E19C24" font-size="11.2px"><tspan font-style="italic">T</tspan><tspan dx="0.5">=</tspan><tspan font-style="italic" dx="0.3">T</tspan><tspan font-style="italic" font-size="7.6px" dx="-0.5" dy="0.6">B</tspan></text>
<text x="86.5" y="91.6" fill="#8FB032" font-size="11.2px"><tspan font-style="italic">T</tspan><tspan dx="0.5">=</tspan><tspan dx="0.3">0.5</tspan><tspan font-style="italic" dx="0.5">T</tspan><tspan font-style="italic" font-size="7.6px" dx="-0.5" dy="0.6">B</tspan></text>
<text x="87.0" y="118.6" fill="#5E81B5" font-size="11.2px"><tspan font-style="italic">T</tspan><tspan dx="0.5">=</tspan><tspan dx="0.3">0.1</tspan><tspan font-style="italic" dx="0.5">T</tspan><tspan font-style="italic" font-size="7.6px" dx="-0.5" dy="0.6">B</tspan></text>
<rect x="142.4" y="4.6" width="180.1" height="134.4" fill="#fff"/>
<clipPath id="ic"><rect x="142.4" y="4.6" width="180.1" height="134.4"/></clipPath>
<g clip-path="url(#ic)" fill="none" stroke-width="1.9" stroke-linejoin="round" stroke-linecap="square">
<path d="M146.53,13.03 L146.76,13.28 L146.99,13.52 L147.22,13.77 L147.45,14.02 L147.68,14.27 L147.91,14.52 L148.14,14.77 L148.37,15.03 L148.60,15.28 L148.83,15.54 L149.06,15.80 L149.29,16.07 L149.52,16.33 L149.75,16.60 L149.98,16.86 L150.21,17.13 L150.44,17.40 L150.67,17.68 L150.90,17.95 L151.13,18.23 L151.36,18.50 L151.59,18.78 L151.82,19.07 L152.05,19.35 L152.28,19.63 L152.51,19.92 L152.74,20.21 L152.97,20.50 L153.20,20.79 L153.43,21.08 L153.66,21.38 L153.89,21.67 L154.12,21.97 L154.35,22.27 L154.58,22.57 L154.81,22.87 L155.04,23.18 L155.27,23.49 L155.50,23.79 L155.73,24.10 L155.96,24.41 L156.19,24.73 L156.42,25.04 L156.65,25.36 L156.88,25.68 L157.11,26.00 L157.34,26.32 L157.57,26.64 L157.80,26.96 L158.03,27.29 L158.26,27.62 L158.49,27.95 L158.72,28.28 L158.95,28.61 L159.18,28.95 L159.41,29.28 L159.64,29.62 L159.87,29.96 L160.10,30.30 L160.33,30.64 L160.56,30.98 L160.79,31.33 L161.02,31.68 L161.25,32.02 L161.48,32.37 L161.71,32.73 L161.94,33.08 L162.17,33.43 L162.40,33.79 L162.63,34.15 L162.86,34.51 L163.09,34.87 L163.32,35.23 L163.55,35.60 L163.78,35.96 L164.01,36.33 L164.24,36.70 L164.47,37.07 L164.70,37.44 L164.93,37.81 L165.16,38.19 L165.39,38.56 L165.62,38.94 L165.85,39.32 L166.08,39.70 L166.31,40.08 L166.54,40.47 L166.77,40.85 L167.00,41.24 L167.23,41.63 L167.46,42.02 L167.69,42.41 L167.92,42.80 L168.15,43.20 L168.38,43.60 L168.61,43.99 L168.84,44.39 L169.07,44.79 L169.30,45.19 L169.53,45.60 L169.76,46.00 L169.99,46.41 L170.22,46.82 L170.45,47.23 L170.68,47.64 L170.91,48.05 L171.14,48.46 L171.37,48.88 L171.60,49.29 L171.83,49.71 L172.06,50.13 L172.29,50.55 L172.52,50.97 L172.75,51.40 L172.98,51.82 L173.21,52.25 L173.44,52.68 L173.67,53.11 L173.90,53.54 L174.13,53.97 L174.36,54.40 L174.59,54.84 L174.82,55.28 L175.05,55.71 L175.28,56.15 L175.51,56.59 L175.74,57.04 L175.97,57.48 L176.20,57.92 L176.43,58.37 L176.66,58.82 L176.89,59.27 L177.12,59.72 L177.35,60.17 L177.58,60.62 L177.81,61.08 L178.04,61.53 L178.27,61.99 L178.50,62.45 L178.73,62.91 L178.96,63.37 L179.19,63.83 L179.42,64.30 L179.65,64.76 L179.88,65.23 L180.11,65.70 L180.34,66.16 L180.57,66.63 L180.80,67.11 L181.03,67.58 L181.26,68.05 L181.49,68.53 L181.72,69.01 L181.95,69.49 L182.18,69.97 L182.41,70.45 L182.64,70.93 L182.87,71.41 L183.10,71.90 L183.33,72.38 L183.56,72.87 L183.79,73.36 L184.02,73.85 L184.25,74.34 L184.48,74.84 L184.71,75.33 L184.94,75.82 L185.17,76.32 L185.40,76.82 L185.63,77.32 L185.86,77.82 L186.09,78.32 L186.32,78.82 L186.55,79.33 L186.78,79.83 L187.01,80.34 L187.24,80.85 L187.47,81.36 L187.70,81.87 L187.93,82.38 L188.16,82.89 L188.39,83.40 L188.62,83.92 L188.85,84.44 L189.08,84.95 L189.31,85.47 L189.54,85.99 L189.77,86.51 L190.00,87.04 L190.23,87.56 L190.46,88.08 L190.69,88.61 L190.92,89.14 L191.15,89.67 L191.38,90.20 L191.61,90.73 L191.84,91.26 L192.07,91.79 L192.30,92.33 L192.53,92.86 L192.76,93.40 L192.99,93.94 L193.22,94.48 L193.45,95.02 L193.68,95.56 L193.91,96.10 L194.14,96.64 L194.37,97.19 L194.60,97.73 L194.83,98.28 L195.06,98.83 L195.29,99.38 L195.52,99.93 L195.75,100.48 L195.98,101.03 L196.21,101.59 L196.44,102.14 L196.67,102.70 L196.90,103.26 L197.13,103.81 L197.36,104.37 L197.59,104.93 L197.82,105.50 L198.05,106.06 L198.28,106.62 L198.51,107.19 L198.74,107.75 L198.97,108.32 L199.20,108.89 L199.43,109.46 L199.66,110.03 L199.89,110.60 L200.12,111.17 L200.35,111.75 L200.58,112.32 L200.81,112.90 L201.04,113.47 L201.27,114.05 L201.50,114.63 L201.73,115.21 L201.96,115.79 L202.19,116.37 L202.42,116.96 L202.65,117.54 L202.88,118.13 L203.11,118.71 L203.34,119.30 L203.57,119.89 L203.80,120.48 L204.03,121.07 L204.26,121.66 L204.49,122.25 L204.72,122.84 L204.95,123.44 L205.18,124.03 L205.41,124.63 L205.64,125.23 L205.87,125.83 L206.10,126.42 L206.33,127.03 L206.56,127.63 L206.79,128.23 L207.02,128.83 L207.25,129.44 L207.48,130.04 L207.71,130.65 L207.94,131.26 L208.17,131.86 L208.40,132.47 L208.63,133.08 L208.86,133.69 L209.09,134.31 L209.32,134.92 L209.55,135.53 L209.78,136.15 L210.01,136.76 L210.24,137.38 L210.47,138.00 L210.70,138.62 L210.93,139.24 L211.16,139.86 L211.39,140.48 L211.62,141.10 L211.85,141.72" stroke="#EB6235"/>
<path d="M146.53,25.65 L146.76,25.70 L146.99,25.76 L147.22,25.82 L147.45,25.88 L147.68,25.94 L147.91,25.99 L148.14,26.05 L148.37,26.11 L148.60,26.17 L148.83,26.23 L149.06,26.29 L149.29,26.35 L149.52,26.41 L149.75,26.47 L149.98,26.53 L150.21,26.59 L150.44,26.65 L150.67,26.71 L150.90,26.77 L151.13,26.84 L151.36,26.90 L151.59,26.96 L151.82,27.02 L152.05,27.08 L152.28,27.14 L152.51,27.21 L152.74,27.27 L152.97,27.33 L153.20,27.39 L153.43,27.46 L153.66,27.52 L153.89,27.58 L154.12,27.65 L154.35,27.71 L154.58,27.77 L154.81,27.84 L155.04,27.90 L155.27,27.96 L155.50,28.03 L155.73,28.09 L155.96,28.16 L156.19,28.22 L156.42,28.28 L156.65,28.35 L156.88,28.41 L157.11,28.48 L157.34,28.54 L157.57,28.61 L157.80,28.67 L158.03,28.74 L158.26,28.80 L158.49,28.87 L158.72,28.93 L158.95,29.00 L159.18,29.06 L159.41,29.13 L159.64,29.19 L159.87,29.26 L160.10,29.32 L160.33,29.39 L160.56,29.46 L160.79,29.52 L161.02,29.59 L161.25,29.65 L161.48,29.72 L161.71,29.78 L161.94,29.85 L162.17,29.92 L162.40,29.98 L162.63,30.05 L162.86,30.12 L163.09,30.18 L163.32,30.25 L163.55,30.31 L163.78,30.38 L164.01,30.45 L164.24,30.51 L164.47,30.58 L164.70,30.65 L164.93,30.71 L165.16,30.78 L165.39,30.84 L165.62,30.91 L165.85,30.98 L166.08,31.04 L166.31,31.11 L166.54,31.18 L166.77,31.24 L167.00,31.31 L167.23,31.38 L167.46,31.44 L167.69,31.51 L167.92,31.58 L168.15,31.64 L168.38,31.71 L168.61,31.78 L168.84,31.84 L169.07,31.91 L169.30,31.98 L169.53,32.04 L169.76,32.11 L169.99,32.18 L170.22,32.24 L170.45,32.31 L170.68,32.38 L170.91,32.44 L171.14,32.51 L171.37,32.58 L171.60,32.64 L171.83,32.71 L172.06,32.78 L172.29,32.84 L172.52,32.91 L172.75,32.98 L172.98,33.04 L173.21,33.11 L173.44,33.18 L173.67,33.24 L173.90,33.31 L174.13,33.38 L174.36,33.44 L174.59,33.51 L174.82,33.57 L175.05,33.64 L175.28,33.71 L175.51,33.77 L175.74,33.84 L175.97,33.91 L176.20,33.97 L176.43,34.04 L176.66,34.11 L176.89,34.17 L177.12,34.24 L177.35,34.30 L177.58,34.37 L177.81,34.44 L178.04,34.50 L178.27,34.57 L178.50,34.64 L178.73,34.70 L178.96,34.77 L179.19,34.83 L179.42,34.90 L179.65,34.97 L179.88,35.03 L180.11,35.10 L180.34,35.16 L180.57,35.23 L180.80,35.30 L181.03,35.36 L181.26,35.43 L181.49,35.49 L181.72,35.56 L181.95,35.63 L182.18,35.69 L182.41,35.76 L182.64,35.82 L182.87,35.89 L183.10,35.96 L183.33,36.02 L183.56,36.09 L183.79,36.15 L184.02,36.22 L184.25,36.29 L184.48,36.35 L184.71,36.42 L184.94,36.48 L185.17,36.55 L185.40,36.62 L185.63,36.68 L185.86,36.75 L186.09,36.81 L186.32,36.88 L186.55,36.94 L186.78,37.01 L187.01,37.08 L187.24,37.14 L187.47,37.21 L187.70,37.27 L187.93,37.34 L188.16,37.41 L188.39,37.47 L188.62,37.54 L188.85,37.60 L189.08,37.67 L189.31,37.74 L189.54,37.80 L189.77,37.87 L190.00,37.93 L190.23,38.00 L190.46,38.07 L190.69,38.13 L190.92,38.20 L191.15,38.27 L191.38,38.33 L191.61,38.40 L191.84,38.47 L192.07,38.53 L192.30,38.60 L192.53,38.66 L192.76,38.73 L192.99,38.80 L193.22,38.86 L193.45,38.93 L193.68,39.00 L193.91,39.06 L194.14,39.13 L194.37,39.20 L194.60,39.27 L194.83,39.33 L195.06,39.40 L195.29,39.47 L195.52,39.53 L195.75,39.60 L195.98,39.67 L196.21,39.74 L196.44,39.80 L196.67,39.87 L196.90,39.94 L197.13,40.01 L197.36,40.08 L197.59,40.14 L197.82,40.21 L198.05,40.28 L198.28,40.35 L198.51,40.42 L198.74,40.48 L198.97,40.55 L199.20,40.62 L199.43,40.69 L199.66,40.76 L199.89,40.83 L200.12,40.90 L200.35,40.97 L200.58,41.04 L200.81,41.11 L201.04,41.18 L201.27,41.25 L201.50,41.32 L201.73,41.39 L201.96,41.46 L202.19,41.53 L202.42,41.60 L202.65,41.67 L202.88,41.74 L203.11,41.81 L203.34,41.88 L203.57,41.95 L203.80,42.02 L204.03,42.09 L204.26,42.17 L204.49,42.24 L204.72,42.31 L204.95,42.38 L205.18,42.46 L205.41,42.53 L205.64,42.60 L205.87,42.67 L206.10,42.75 L206.33,42.82 L206.56,42.90 L206.79,42.97 L207.02,43.04 L207.25,43.12 L207.48,43.19 L207.71,43.27 L207.94,43.34 L208.17,43.42 L208.40,43.49 L208.63,43.57 L208.86,43.65 L209.09,43.72 L209.32,43.80 L209.55,43.87 L209.78,43.95 L210.01,44.03 L210.24,44.11 L210.47,44.18 L210.70,44.26 L210.93,44.34 L211.16,44.42 L211.39,44.50 L211.62,44.58 L211.85,44.66 L212.08,44.74 L212.31,44.82 L212.54,44.90 L212.77,44.98 L213.00,45.06 L213.23,45.14 L213.46,45.22 L213.69,45.31 L213.92,45.39 L214.15,45.47 L214.38,45.55 L214.61,45.64 L214.84,45.72 L215.07,45.81 L215.30,45.89 L215.53,45.98 L215.76,46.06 L215.99,46.15 L216.22,46.23 L216.45,46.32 L216.68,46.41 L216.91,46.49 L217.14,46.58 L217.37,46.67 L217.60,46.76 L217.83,46.85 L218.06,46.94 L218.29,47.03 L218.52,47.12 L218.75,47.21 L218.98,47.30 L219.21,47.39 L219.44,47.48 L219.67,47.57 L219.90,47.67 L220.13,47.76 L220.36,47.85 L220.59,47.95 L220.82,48.04 L221.05,48.14 L221.28,48.23 L221.51,48.33 L221.74,48.43 L221.97,48.52 L222.20,48.62 L222.43,48.72 L222.66,48.82 L222.89,48.92 L223.12,49.02 L223.35,49.12 L223.58,49.22 L223.81,49.32 L224.04,49.42 L224.27,49.52 L224.50,49.63 L224.73,49.73 L224.96,49.84 L225.19,49.94 L225.42,50.05 L225.65,50.15 L225.88,50.26 L226.11,50.37 L226.34,50.48 L226.57,50.58 L226.80,50.69 L227.03,50.80 L227.26,50.91 L227.49,51.02 L227.72,51.14 L227.95,51.25 L228.18,51.36 L228.41,51.48 L228.64,51.59 L228.87,51.71 L229.10,51.82 L229.33,51.94 L229.56,52.06 L229.79,52.17 L230.02,52.29 L230.25,52.41 L230.48,52.53 L230.71,52.65 L230.94,52.77 L231.17,52.90 L231.40,53.02 L231.63,53.14 L231.86,53.27 L232.09,53.39 L232.32,53.52 L232.55,53.65 L232.78,53.78 L233.01,53.90 L233.24,54.03 L233.47,54.16 L233.70,54.29 L233.93,54.43 L234.16,54.56 L234.39,54.69 L234.62,54.83 L234.85,54.96 L235.08,55.10 L235.31,55.24 L235.54,55.37 L235.77,55.51 L236.00,55.65 L236.23,55.79 L236.46,55.93 L236.69,56.08 L236.92,56.22 L237.15,56.36 L237.38,56.51 L237.61,56.66 L237.84,56.80 L238.07,56.95 L238.30,57.10 L238.53,57.25 L238.76,57.40 L238.99,57.55 L239.22,57.71 L239.45,57.86 L239.68,58.01 L239.91,58.17 L240.14,58.33 L240.37,58.49 L240.60,58.64 L240.83,58.80 L241.06,58.97 L241.29,59.13 L241.52,59.29 L241.75,59.46 L241.98,59.62 L242.21,59.79 L242.44,59.96 L242.67,60.12 L242.90,60.29 L243.13,60.47 L243.36,60.64 L243.59,60.81 L243.82,60.99 L244.05,61.16 L244.28,61.34 L244.51,61.52 L244.74,61.70 L244.97,61.88 L245.20,62.06 L245.43,62.24 L245.66,62.42 L245.89,62.61 L246.12,62.80 L246.35,62.98 L246.58,63.17 L246.81,63.36 L247.04,63.55 L247.27,63.75 L247.50,63.94 L247.73,64.14 L247.96,64.33 L248.19,64.53 L248.42,64.73 L248.65,64.93 L248.88,65.13 L249.11,65.34 L249.34,65.54 L249.57,65.75 L249.80,65.95 L250.03,66.16 L250.26,66.37 L250.49,66.59 L250.72,66.80 L250.95,67.01 L251.18,67.23 L251.41,67.45 L251.64,67.66 L251.87,67.88 L252.10,68.11 L252.33,68.33 L252.56,68.55 L252.79,68.78 L253.02,69.01 L253.25,69.24 L253.48,69.47 L253.71,69.70 L253.94,69.93 L254.17,70.17 L254.40,70.40 L254.63,70.64 L254.86,70.88 L255.09,71.12 L255.32,71.37 L255.55,71.61 L255.78,71.86 L256.01,72.11 L256.24,72.36 L256.47,72.61 L256.70,72.86 L256.93,73.11 L257.16,73.37 L257.39,73.63 L257.62,73.89 L257.85,74.15 L258.08,74.41 L258.31,74.68 L258.54,74.94 L258.77,75.21 L259.00,75.48 L259.23,75.75 L259.46,76.03 L259.69,76.30 L259.92,76.58 L260.15,76.86 L260.38,77.14 L260.61,77.42 L260.84,77.70 L261.07,77.99 L261.30,78.28 L261.53,78.57 L261.76,78.86 L261.99,79.15 L262.22,79.45 L262.45,79.74 L262.68,80.04 L262.91,80.34 L263.14,80.65 L263.37,80.95 L263.60,81.26 L263.83,81.57 L264.06,81.88 L264.29,82.19 L264.52,82.51 L264.75,82.82 L264.98,83.14 L265.21,83.46 L265.44,83.79 L265.67,84.11 L265.90,84.44 L266.13,84.77 L266.36,85.10 L266.59,85.43 L266.82,85.77 L267.05,86.11 L267.28,86.45 L267.51,86.79 L267.74,87.13 L267.97,87.48 L268.20,87.83 L268.43,88.18 L268.66,88.53 L268.89,88.88 L269.12,89.24 L269.35,89.60 L269.58,89.96 L269.81,90.32 L270.04,90.69 L270.27,91.06 L270.50,91.43 L270.73,91.80 L270.96,92.18 L271.19,92.55 L271.42,92.93 L271.65,93.32 L271.88,93.70 L272.11,94.09 L272.34,94.48 L272.57,94.87 L272.80,95.26 L273.03,95.66 L273.26,96.06 L273.49,96.46 L273.72,96.86 L273.95,97.27 L274.18,97.68 L274.41,98.09 L274.64,98.50 L274.87,98.92 L275.10,99.34 L275.33,99.76 L275.56,100.18 L275.79,100.61 L276.02,101.04 L276.25,101.47 L276.48,101.90 L276.71,102.34 L276.94,102.78 L277.17,103.22 L277.40,103.66 L277.63,104.11 L277.86,104.56 L278.09,105.01 L278.32,105.47 L278.55,105.92 L278.78,106.39 L279.01,106.85 L279.24,107.31 L279.47,107.78 L279.70,108.25 L279.93,108.73 L280.16,109.21 L280.39,109.68 L280.62,110.17 L280.85,110.65 L281.08,111.14 L281.31,111.63 L281.54,112.13 L281.77,112.62 L282.00,113.12 L282.23,113.62 L282.46,114.13 L282.69,114.64 L282.92,115.15 L283.15,115.66 L283.38,116.18 L283.61,116.70 L283.84,117.22 L284.07,117.75 L284.30,118.28 L284.53,118.81 L284.76,119.35 L284.99,119.89 L285.22,120.43 L285.45,120.97 L285.68,121.52 L285.91,122.07 L286.14,122.62 L286.37,123.18 L286.60,123.74 L286.83,124.30 L287.06,124.87 L287.29,125.44 L287.52,126.01 L287.75,126.59 L287.98,127.17 L288.21,127.75 L288.44,128.34 L288.67,128.92 L288.90,129.52 L289.13,130.11 L289.36,130.71 L289.59,131.31 L289.82,131.92 L290.05,132.53 L290.28,133.14 L290.51,133.76 L290.74,134.37 L290.97,135.00 L291.20,135.62 L291.43,136.25 L291.66,136.88 L291.89,137.52 L292.12,138.16 L292.35,138.80 L292.58,139.45 L292.81,140.10 L293.04,140.75 L293.27,141.41" stroke="#E19C24"/>
<path d="M146.53,20.95 L146.76,21.07 L146.99,21.18 L147.22,21.30 L147.45,21.42 L147.68,21.53 L147.91,21.65 L148.14,21.77 L148.37,21.88 L148.60,22.00 L148.83,22.12 L149.06,22.23 L149.29,22.35 L149.52,22.46 L149.75,22.58 L149.98,22.70 L150.21,22.81 L150.44,22.93 L150.67,23.05 L150.90,23.16 L151.13,23.28 L151.36,23.40 L151.59,23.51 L151.82,23.63 L152.05,23.74 L152.28,23.86 L152.51,23.98 L152.74,24.09 L152.97,24.21 L153.20,24.33 L153.43,24.44 L153.66,24.56 L153.89,24.68 L154.12,24.79 L154.35,24.91 L154.58,25.02 L154.81,25.14 L155.04,25.26 L155.27,25.37 L155.50,25.49 L155.73,25.61 L155.96,25.72 L156.19,25.84 L156.42,25.96 L156.65,26.07 L156.88,26.19 L157.11,26.30 L157.34,26.42 L157.57,26.54 L157.80,26.65 L158.03,26.77 L158.26,26.89 L158.49,27.00 L158.72,27.12 L158.95,27.24 L159.18,27.35 L159.41,27.47 L159.64,27.58 L159.87,27.70 L160.10,27.82 L160.33,27.93 L160.56,28.05 L160.79,28.17 L161.02,28.28 L161.25,28.40 L161.48,28.52 L161.71,28.63 L161.94,28.75 L162.17,28.86 L162.40,28.98 L162.63,29.10 L162.86,29.21 L163.09,29.33 L163.32,29.45 L163.55,29.56 L163.78,29.68 L164.01,29.80 L164.24,29.91 L164.47,30.03 L164.70,30.14 L164.93,30.26 L165.16,30.38 L165.39,30.49 L165.62,30.61 L165.85,30.73 L166.08,30.84 L166.31,30.96 L166.54,31.08 L166.77,31.19 L167.00,31.31 L167.23,31.43 L167.46,31.54 L167.69,31.66 L167.92,31.77 L168.15,31.89 L168.38,32.01 L168.61,32.12 L168.84,32.24 L169.07,32.36 L169.30,32.47 L169.53,32.59 L169.76,32.71 L169.99,32.82 L170.22,32.94 L170.45,33.05 L170.68,33.17 L170.91,33.29 L171.14,33.40 L171.37,33.52 L171.60,33.64 L171.83,33.75 L172.06,33.87 L172.29,33.99 L172.52,34.10 L172.75,34.22 L172.98,34.33 L173.21,34.45 L173.44,34.57 L173.67,34.68 L173.90,34.80 L174.13,34.92 L174.36,35.03 L174.59,35.15 L174.82,35.27 L175.05,35.38 L175.28,35.50 L175.51,35.61 L175.74,35.73 L175.97,35.85 L176.20,35.96 L176.43,36.08 L176.66,36.20 L176.89,36.31 L177.12,36.43 L177.35,36.55 L177.58,36.66 L177.81,36.78 L178.04,36.89 L178.27,37.01 L178.50,37.13 L178.73,37.24 L178.96,37.36 L179.19,37.48 L179.42,37.59 L179.65,37.71 L179.88,37.83 L180.11,37.94 L180.34,38.06 L180.57,38.17 L180.80,38.29 L181.03,38.41 L181.26,38.52 L181.49,38.64 L181.72,38.76 L181.95,38.87 L182.18,38.99 L182.41,39.11 L182.64,39.22 L182.87,39.34 L183.10,39.45 L183.33,39.57 L183.56,39.69 L183.79,39.80 L184.02,39.92 L184.25,40.04 L184.48,40.15 L184.71,40.27 L184.94,40.39 L185.17,40.50 L185.40,40.62 L185.63,40.73 L185.86,40.85 L186.09,40.97 L186.32,41.08 L186.55,41.20 L186.78,41.32 L187.01,41.43 L187.24,41.55 L187.47,41.67 L187.70,41.78 L187.93,41.90 L188.16,42.01 L188.39,42.13 L188.62,42.25 L188.85,42.36 L189.08,42.48 L189.31,42.60 L189.54,42.71 L189.77,42.83 L190.00,42.95 L190.23,43.06 L190.46,43.18 L190.69,43.29 L190.92,43.41 L191.15,43.53 L191.38,43.64 L191.61,43.76 L191.84,43.88 L192.07,43.99 L192.30,44.11 L192.53,44.23 L192.76,44.34 L192.99,44.46 L193.22,44.57 L193.45,44.69 L193.68,44.81 L193.91,44.92 L194.14,45.04 L194.37,45.16 L194.60,45.27 L194.83,45.39 L195.06,45.51 L195.29,45.62 L195.52,45.74 L195.75,45.85 L195.98,45.97 L196.21,46.09 L196.44,46.20 L196.67,46.32 L196.90,46.44 L197.13,46.55 L197.36,46.67 L197.59,46.79 L197.82,46.90 L198.05,47.02 L198.28,47.13 L198.51,47.25 L198.74,47.37 L198.97,47.48 L199.20,47.60 L199.43,47.72 L199.66,47.83 L199.89,47.95 L200.12,48.07 L200.35,48.18 L200.58,48.30 L200.81,48.41 L201.04,48.53 L201.27,48.65 L201.50,48.76 L201.73,48.88 L201.96,49.00 L202.19,49.11 L202.42,49.23 L202.65,49.35 L202.88,49.46 L203.11,49.58 L203.34,49.69 L203.57,49.81 L203.80,49.93 L204.03,50.04 L204.26,50.16 L204.49,50.28 L204.72,50.39 L204.95,50.51 L205.18,50.63 L205.41,50.74 L205.64,50.86 L205.87,50.97 L206.10,51.09 L206.33,51.21 L206.56,51.32 L206.79,51.44 L207.02,51.56 L207.25,51.67 L207.48,51.79 L207.71,51.91 L207.94,52.02 L208.17,52.14 L208.40,52.25 L208.63,52.37 L208.86,52.49 L209.09,52.60 L209.32,52.72 L209.55,52.84 L209.78,52.95 L210.01,53.07 L210.24,53.19 L210.47,53.30 L210.70,53.42 L210.93,53.53 L211.16,53.65 L211.39,53.77 L211.62,53.88 L211.85,54.00 L212.08,54.12 L212.31,54.23 L212.54,54.35 L212.77,54.47 L213.00,54.58 L213.23,54.70 L213.46,54.81 L213.69,54.93 L213.92,55.05 L214.15,55.16 L214.38,55.28 L214.61,55.40 L214.84,55.51 L215.07,55.63 L215.30,55.75 L215.53,55.86 L215.76,55.98 L215.99,56.09 L216.22,56.21 L216.45,56.33 L216.68,56.44 L216.91,56.56 L217.14,56.68 L217.37,56.79 L217.60,56.91 L217.83,57.03 L218.06,57.14 L218.29,57.26 L218.52,57.37 L218.75,57.49 L218.98,57.61 L219.21,57.72 L219.44,57.84 L219.67,57.96 L219.90,58.07 L220.13,58.19 L220.36,58.30 L220.59,58.42 L220.82,58.54 L221.05,58.65 L221.28,58.77 L221.51,58.89 L221.74,59.00 L221.97,59.12 L222.20,59.23 L222.43,59.35 L222.66,59.47 L222.89,59.58 L223.12,59.70 L223.35,59.82 L223.58,59.93 L223.81,60.05 L224.04,60.16 L224.27,60.28 L224.50,60.40 L224.73,60.51 L224.96,60.63 L225.19,60.75 L225.42,60.86 L225.65,60.98 L225.88,61.09 L226.11,61.21 L226.34,61.33 L226.57,61.44 L226.80,61.56 L227.03,61.68 L227.26,61.79 L227.49,61.91 L227.72,62.02 L227.95,62.14 L228.18,62.26 L228.41,62.37 L228.64,62.49 L228.87,62.61 L229.10,62.72 L229.33,62.84 L229.56,62.96 L229.79,63.07 L230.02,63.19 L230.25,63.30 L230.48,63.42 L230.71,63.54 L230.94,63.65 L231.17,63.77 L231.40,63.89 L231.63,64.00 L231.86,64.12 L232.09,64.24 L232.32,64.35 L232.55,64.47 L232.78,64.58 L233.01,64.70 L233.24,64.82 L233.47,64.93 L233.70,65.05 L233.93,65.17 L234.16,65.28 L234.39,65.40 L234.62,65.52 L234.85,65.63 L235.08,65.75 L235.31,65.87 L235.54,65.98 L235.77,66.10 L236.00,66.22 L236.23,66.33 L236.46,66.45 L236.69,66.57 L236.92,66.68 L237.15,66.80 L237.38,66.92 L237.61,67.03 L237.84,67.15 L238.07,67.27 L238.30,67.38 L238.53,67.50 L238.76,67.62 L238.99,67.73 L239.22,67.85 L239.45,67.97 L239.68,68.08 L239.91,68.20 L240.14,68.32 L240.37,68.43 L240.60,68.55 L240.83,68.66 L241.06,68.78 L241.29,68.90 L241.52,69.01 L241.75,69.13 L241.98,69.25 L242.21,69.36 L242.44,69.48 L242.67,69.60 L242.90,69.71 L243.13,69.83 L243.36,69.94 L243.59,70.06 L243.82,70.18 L244.05,70.29 L244.28,70.41 L244.51,70.53 L244.74,70.64 L244.97,70.76 L245.20,70.87 L245.43,70.99 L245.66,71.11 L245.89,71.22 L246.12,71.34 L246.35,71.46 L246.58,71.57 L246.81,71.69 L247.04,71.81 L247.27,71.92 L247.50,72.04 L247.73,72.15 L247.96,72.27 L248.19,72.39 L248.42,72.50 L248.65,72.62 L248.88,72.74 L249.11,72.85 L249.34,72.97 L249.57,73.09 L249.80,73.20 L250.03,73.32 L250.26,73.44 L250.49,73.55 L250.72,73.67 L250.95,73.78 L251.18,73.90 L251.41,74.02 L251.64,74.14 L251.87,74.25 L252.10,74.37 L252.33,74.49 L252.56,74.60 L252.79,74.72 L253.02,74.84 L253.25,74.95 L253.48,75.07 L253.71,75.19 L253.94,75.30 L254.17,75.42 L254.40,75.54 L254.63,75.66 L254.86,75.77 L255.09,75.89 L255.32,76.01 L255.55,76.13 L255.78,76.24 L256.01,76.36 L256.24,76.48 L256.47,76.60 L256.70,76.71 L256.93,76.83 L257.16,76.95 L257.39,77.07 L257.62,77.19 L257.85,77.30 L258.08,77.42 L258.31,77.54 L258.54,77.66 L258.77,77.78 L259.00,77.89 L259.23,78.01 L259.46,78.13 L259.69,78.25 L259.92,78.37 L260.15,78.49 L260.38,78.61 L260.61,78.73 L260.84,78.84 L261.07,78.96 L261.30,79.08 L261.53,79.20 L261.76,79.32 L261.99,79.44 L262.22,79.56 L262.45,79.68 L262.68,79.80 L262.91,79.92 L263.14,80.04 L263.37,80.16 L263.60,80.28 L263.83,80.40 L264.06,80.52 L264.29,80.64 L264.52,80.76 L264.75,80.88 L264.98,81.00 L265.21,81.12 L265.44,81.24 L265.67,81.36 L265.90,81.49 L266.13,81.61 L266.36,81.73 L266.59,81.85 L266.82,81.97 L267.05,82.09 L267.28,82.21 L267.51,82.33 L267.74,82.46 L267.97,82.58 L268.20,82.70 L268.43,82.82 L268.66,82.94 L268.89,83.06 L269.12,83.19 L269.35,83.31 L269.58,83.43 L269.81,83.55 L270.04,83.68 L270.27,83.80 L270.50,83.92 L270.73,84.04 L270.96,84.16 L271.19,84.29 L271.42,84.41 L271.65,84.53 L271.88,84.65 L272.11,84.78 L272.34,84.90 L272.57,85.02 L272.80,85.14 L273.03,85.27 L273.26,85.39 L273.49,85.51 L273.72,85.63 L273.95,85.76 L274.18,85.88 L274.41,86.00 L274.64,86.12 L274.87,86.25 L275.10,86.37 L275.33,86.49 L275.56,86.62 L275.79,86.74 L276.02,86.86 L276.25,86.98 L276.48,87.11 L276.71,87.23 L276.94,87.35 L277.17,87.48 L277.40,87.60 L277.63,87.72 L277.86,87.85 L278.09,87.97 L278.32,88.09 L278.55,88.22 L278.78,88.34 L279.01,88.46 L279.24,88.59 L279.47,88.71 L279.70,88.84 L279.93,88.96 L280.16,89.08 L280.39,89.21 L280.62,89.33 L280.85,89.45 L281.08,89.58 L281.31,89.70 L281.54,89.83 L281.77,89.95 L282.00,90.07 L282.23,90.20 L282.46,90.32 L282.69,90.45 L282.92,90.57 L283.15,90.70 L283.38,90.82 L283.61,90.95 L283.84,91.07 L284.07,91.19 L284.30,91.32 L284.53,91.44 L284.76,91.57 L284.99,91.69 L285.22,91.82 L285.45,91.94 L285.68,92.07 L285.91,92.19 L286.14,92.32 L286.37,92.44 L286.60,92.57 L286.83,92.69 L287.06,92.81 L287.29,92.94 L287.52,93.06 L287.75,93.18 L287.98,93.31 L288.21,93.43 L288.44,93.55 L288.67,93.67 L288.90,93.79 L289.13,93.91 L289.36,94.04 L289.59,94.16 L289.82,94.28 L290.05,94.40 L290.28,94.52 L290.51,94.64 L290.74,94.76 L290.97,94.89 L291.20,95.01 L291.43,95.13 L291.66,95.25 L291.89,95.37 L292.12,95.50 L292.35,95.62 L292.58,95.74 L292.81,95.87 L293.04,95.99 L293.27,96.12 L293.50,96.24 L293.73,96.37 L293.96,96.49 L294.19,96.62 L294.42,96.75 L294.65,96.88 L294.88,97.00 L295.11,97.13 L295.34,97.26 L295.57,97.39 L295.80,97.53 L296.03,97.66 L296.26,97.79 L296.49,97.92 L296.72,98.06 L296.95,98.20 L297.18,98.33 L297.41,98.47 L297.64,98.61 L297.87,98.75 L298.10,98.89 L298.33,99.03 L298.56,99.17 L298.79,99.32 L299.02,99.46 L299.25,99.60 L299.48,99.74 L299.71,99.88 L299.94,100.03 L300.17,100.17 L300.40,100.31 L300.63,100.46 L300.86,100.60 L301.09,100.74 L301.32,100.89 L301.55,101.04 L301.78,101.18 L302.01,101.33 L302.24,101.48 L302.47,101.63 L302.70,101.78 L302.93,101.93 L303.16,102.08 L303.39,102.23 L303.62,102.38 L303.85,102.54 L304.08,102.69 L304.31,102.85 L304.54,103.01 L304.77,103.16 L305.00,103.32 L305.23,103.48 L305.46,103.65 L305.69,103.81 L305.92,103.98 L306.15,104.14 L306.38,104.31 L306.61,104.48 L306.84,104.65 L307.07,104.82 L307.30,105.00 L307.53,105.17 L307.76,105.35 L307.99,105.53 L308.22,105.71 L308.45,105.90 L308.68,106.08 L308.91,106.27 L309.14,106.46 L309.37,106.65 L309.60,106.84 L309.83,107.04 L310.06,107.24 L310.29,107.44 L310.52,107.64 L310.75,107.85 L310.98,108.06 L311.21,108.27 L311.44,108.49 L311.67,108.71 L311.90,108.94 L312.13,109.17 L312.36,109.40 L312.59,109.63 L312.82,109.87 L313.05,110.11 L313.28,110.36 L313.51,110.60 L313.74,110.85 L313.97,111.11 L314.20,111.36 L314.43,111.62 L314.66,111.88 L314.89,112.14 L315.12,112.41 L315.35,112.67 L315.58,112.94 L315.81,113.22 L316.04,113.49 L316.27,113.77 L316.50,114.05 L316.73,114.33 L316.96,114.61 L317.19,114.89 L317.42,115.18 L317.65,115.47 L317.88,115.75 L318.11,116.05 L318.34,116.34 L318.57,116.63 L318.80,116.93" stroke="#8FB032"/>
<path d="M146.53,6.81 L146.76,7.40 L146.99,7.99 L147.22,8.58 L147.45,9.17 L147.68,9.76 L147.91,10.35 L148.14,10.94 L148.37,11.53 L148.60,12.13 L148.83,12.72 L149.06,13.31 L149.29,13.90 L149.52,14.49 L149.75,15.08 L149.98,15.67 L150.21,16.26 L150.44,16.86 L150.67,17.45 L150.90,18.04 L151.13,18.63 L151.36,19.22 L151.59,19.81 L151.82,20.40 L152.05,20.99 L152.28,21.58 L152.51,22.18 L152.74,22.77 L152.97,23.36 L153.20,23.95 L153.43,24.54 L153.66,25.13 L153.89,25.72 L154.12,26.31 L154.35,26.91 L154.58,27.50 L154.81,28.09 L155.04,28.68 L155.27,29.27 L155.50,29.86 L155.73,30.45 L155.96,31.04 L156.19,31.64 L156.42,32.23 L156.65,32.82 L156.88,33.41 L157.11,34.00 L157.34,34.59 L157.57,35.18 L157.80,35.77 L158.03,36.36 L158.26,36.96 L158.49,37.55 L158.72,38.14 L158.95,38.73 L159.18,39.32 L159.41,39.91 L159.64,40.50 L159.87,41.09 L160.10,41.69 L160.33,42.28 L160.56,42.87 L160.79,43.46 L161.02,44.05 L161.25,44.64 L161.48,45.23 L161.71,45.82 L161.94,46.41 L162.17,47.01 L162.40,47.60 L162.63,48.19 L162.86,48.78 L163.09,49.37 L163.32,49.96 L163.55,50.55 L163.78,51.14 L164.01,51.74 L164.24,52.33 L164.47,52.92 L164.70,53.51 L164.93,54.10 L165.16,54.69 L165.39,55.28 L165.62,55.87 L165.85,56.47 L166.08,57.06 L166.31,57.65 L166.54,58.24 L166.77,58.83 L167.00,59.42 L167.23,60.01 L167.46,60.60 L167.69,61.19 L167.92,61.79 L168.15,62.38 L168.38,62.97 L168.61,63.56 L168.84,64.15 L169.07,64.74 L169.30,65.33 L169.53,65.92 L169.76,66.52 L169.99,67.11 L170.22,67.70 L170.45,68.29 L170.68,68.88 L170.91,69.47 L171.14,70.06 L171.37,70.65 L171.60,71.24 L171.83,71.84 L172.06,72.43 L172.29,73.02 L172.52,73.61 L172.75,74.20 L172.98,74.79 L173.21,75.38 L173.44,75.97 L173.67,76.57 L173.90,77.16 L174.13,77.75 L174.36,78.34 L174.59,78.93 L174.82,79.52 L175.05,80.11 L175.28,80.70 L175.51,81.30 L175.74,81.89 L175.97,82.48 L176.20,83.07 L176.43,83.66 L176.66,84.25 L176.89,84.84 L177.12,85.43 L177.35,86.02 L177.58,86.62 L177.81,87.21 L178.04,87.80 L178.27,88.39 L178.50,88.98 L178.73,89.57 L178.96,90.16 L179.19,90.75 L179.42,91.35 L179.65,91.94 L179.88,92.53 L180.11,93.12 L180.34,93.71 L180.57,94.30 L180.80,94.89 L181.03,95.48 L181.26,96.07 L181.49,96.67 L181.72,97.26 L181.95,97.85 L182.18,98.44 L182.41,99.03 L182.64,99.62 L182.87,100.21 L183.10,100.80 L183.33,101.40 L183.56,101.99 L183.79,102.58 L184.02,103.17 L184.25,103.76 L184.48,104.35 L184.71,104.94 L184.94,105.53 L185.17,106.13 L185.40,106.72 L185.63,107.31 L185.86,107.90 L186.09,108.49 L186.32,109.08 L186.55,109.67 L186.78,110.26 L187.01,110.85 L187.24,111.45 L187.47,112.04 L187.70,112.63 L187.93,113.22 L188.16,113.81 L188.39,114.40 L188.62,114.99 L188.85,115.58 L189.08,116.18 L189.31,116.77 L189.54,117.36 L189.77,117.95 L190.00,118.54 L190.23,119.13 L190.46,119.72 L190.69,120.31 L190.92,120.90 L191.15,121.50 L191.38,122.09 L191.61,122.68 L191.84,123.27 L192.07,123.86 L192.30,124.45 L192.53,125.04 L192.76,125.63 L192.99,126.23 L193.22,126.82 L193.45,127.41 L193.68,128.00 L193.91,128.59 L194.14,129.18 L194.37,129.77 L194.60,130.36 L194.83,130.96 L195.06,131.55 L195.29,132.14 L195.52,132.73 L195.75,133.32 L195.98,133.91 L196.21,134.50 L196.44,135.09 L196.67,135.68 L196.90,136.28 L197.13,136.87 L197.36,137.46 L197.59,138.05 L197.82,138.64 L198.05,139.23 L198.28,139.82 L198.51,140.41 L198.74,141.01 L198.97,141.60" stroke="#5E81B5"/>
</g>
<path d="M142.4,119.67 h1.9 M142.4,100.34 h1.9 M142.4,81.01 h1.9 M142.4,61.68 h1.9 M142.4,42.35 h1.9 M142.4,23.02 h1.9" stroke="#5a5a5a" stroke-width="0.6" fill="none" opacity="0.4"/>
<path d="M146.30,139.0 v-2.4 M146.30,4.6 v2.4 M150.90,139.0 v-1.5 M150.90,4.6 v1.5 M155.50,139.0 v-1.5 M155.50,4.6 v1.5 M160.10,139.0 v-1.5 M160.10,4.6 v1.5 M164.70,139.0 v-1.5 M164.70,4.6 v1.5 M169.30,139.0 v-2.4 M169.30,4.6 v2.4 M173.90,139.0 v-1.5 M173.90,4.6 v1.5 M178.50,139.0 v-1.5 M178.50,4.6 v1.5 M183.10,139.0 v-1.5 M183.10,4.6 v1.5 M187.70,139.0 v-1.5 M187.70,4.6 v1.5 M192.30,139.0 v-2.4 M192.30,4.6 v2.4 M196.90,139.0 v-1.5 M196.90,4.6 v1.5 M201.50,139.0 v-1.5 M201.50,4.6 v1.5 M206.10,139.0 v-1.5 M206.10,4.6 v1.5 M210.70,139.0 v-1.5 M210.70,4.6 v1.5 M215.30,139.0 v-2.4 M215.30,4.6 v2.4 M219.90,139.0 v-1.5 M219.90,4.6 v1.5 M224.50,139.0 v-1.5 M224.50,4.6 v1.5 M229.10,139.0 v-1.5 M229.10,4.6 v1.5 M233.70,139.0 v-1.5 M233.70,4.6 v1.5 M238.30,139.0 v-2.4 M238.30,4.6 v2.4 M242.90,139.0 v-1.5 M242.90,4.6 v1.5 M247.50,139.0 v-1.5 M247.50,4.6 v1.5 M252.10,139.0 v-1.5 M252.10,4.6 v1.5 M256.70,139.0 v-1.5 M256.70,4.6 v1.5 M261.30,139.0 v-2.4 M261.30,4.6 v2.4 M265.90,139.0 v-1.5 M265.90,4.6 v1.5 M270.50,139.0 v-1.5 M270.50,4.6 v1.5 M275.10,139.0 v-1.5 M275.10,4.6 v1.5 M279.70,139.0 v-1.5 M279.70,4.6 v1.5 M284.30,139.0 v-2.4 M284.30,4.6 v2.4 M288.90,139.0 v-1.5 M288.90,4.6 v1.5 M293.50,139.0 v-1.5 M293.50,4.6 v1.5 M298.10,139.0 v-1.5 M298.10,4.6 v1.5 M302.70,139.0 v-1.5 M302.70,4.6 v1.5 M307.30,139.0 v-2.4 M307.30,4.6 v2.4 M311.90,139.0 v-1.5 M311.90,4.6 v1.5 M316.50,139.0 v-1.5 M316.50,4.6 v1.5 M321.10,139.0 v-1.5 M321.10,4.6 v1.5" stroke="#5a5a5a" stroke-width="0.7" fill="none"/>
<rect x="142.4" y="4.6" width="180.1" height="134.4" fill="none" stroke="#000" stroke-width="1.2"/>
<g fill="#666666" font-size="9px">
<text x="146.30" y="150.4" text-anchor="middle">0</text>
<text x="169.30" y="150.4" text-anchor="middle">100</text>
<text x="192.30" y="150.4" text-anchor="middle">200</text>
<text x="215.30" y="150.4" text-anchor="middle">300</text>
<text x="238.30" y="150.4" text-anchor="middle">400</text>
<text x="261.30" y="150.4" text-anchor="middle">500</text>
<text x="284.30" y="150.4" text-anchor="middle">600</text>
<text x="307.30" y="150.4" text-anchor="middle">700</text>
<text x="138.3" y="27.22" text-anchor="end" font-size="9.6px">10<tspan font-size="8.5px" dy="-3.6" dx="-0.4">−</tspan><tspan font-size="8.5px" dx="-0.9">2</tspan></text>
<text x="138.3" y="65.88" text-anchor="end" font-size="9.6px">10<tspan font-size="8.5px" dy="-3.6" dx="-0.4">−</tspan><tspan font-size="8.5px" dx="-0.9">4</tspan></text>
<text x="138.3" y="104.54" text-anchor="end" font-size="9.6px">10<tspan font-size="8.5px" dy="-3.6" dx="-0.4">−</tspan><tspan font-size="8.5px" dx="-0.9">6</tspan></text>
<text x="138.3" y="143.20" text-anchor="end" font-size="9.6px">10<tspan font-size="8.5px" dy="-3.6" dx="-0.4">−</tspan><tspan font-size="8.5px" dx="-0.9">8</tspan></text>
</g>
<text x="232.6" y="171.3" text-anchor="middle" font-size="12px" font-style="italic" fill="#666666">n</text>
</svg>
</body></html>
